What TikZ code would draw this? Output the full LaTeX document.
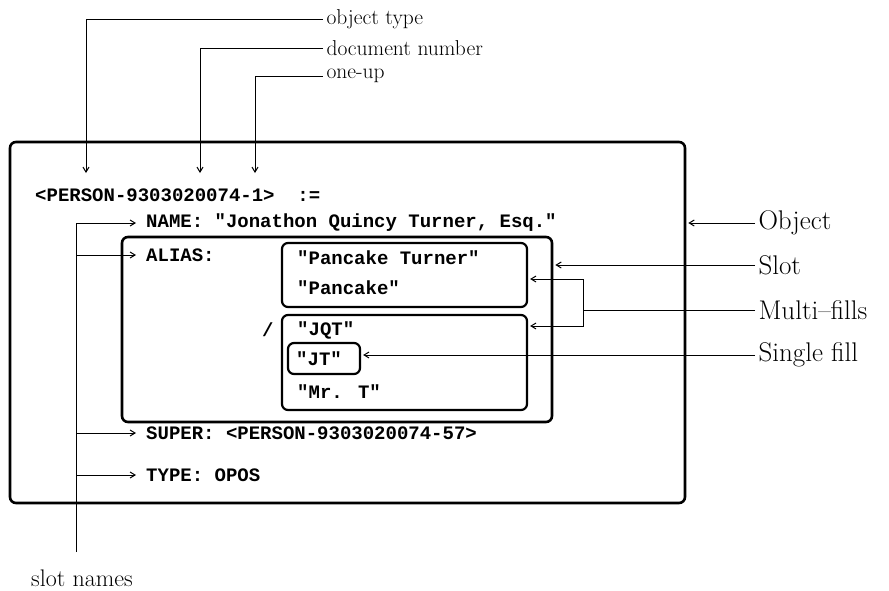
\documentclass[tikz,border=0pt]{standalone}
\usepackage{fontspec}
\newfontfamily\codefont{Liberation Mono}
\usetikzlibrary{arrows.meta}

\begin{document}
\begin{tikzpicture}[x=1pt, y=-1pt,
    >={Straight Barb[length=5pt,width=6pt]},
    frame/.style={draw, line width=2.6pt, rounded corners=6pt, inner sep=0pt},
    code/.style={anchor=west, inner sep=0pt, font=\codefont\bfseries\fontsize{19}{21}\selectfont},
    note/.style={anchor=west, font=\fontsize{21.5}{24}\selectfont},
    tag/.style={anchor=west, font=\fontsize{27}{30}\selectfont},
    lead/.style={line width=1pt}]
    \useasboundingbox (0,0) rectangle (889,590);

    % Boxes: object, slot, fills
    \node[frame, minimum width=675pt, minimum height=361pt] (object) at (347.5,322.5) {};
    \node[frame, minimum width=430pt, minimum height=185pt] (slot) at (337,329.5) {};
    \node[frame, line width=2.2pt, minimum width=245pt, minimum height=64pt] (fillA) at (404.5,275) {};
    \node[frame, line width=2.2pt, minimum width=245pt, minimum height=95pt] (fillB) at (404.5,362.5) {};
    \node[frame, line width=2.2pt, minimum width=72pt, minimum height=31pt] (fillJT) at (324,358.5) {};

    % Object text
    \node[code] (head) at (35,195) {<PERSON-9303020074-1>\ \ :=};
    \node[code] (name) at (146,223) {NAME: "Jonathon Quincy Turner, Esq."};
    \node[code] (alias) at (146,255) {ALIAS:};
    \node[code] (pturner) at (297,258) {"Pancake Turner"};
    \node[code] (pancake) at (297,288) {"Pancake"};
    \node[code] (sep) at (262,330) {/};
    \node[code] (jqt) at (297,330) {"JQT"};
    \node[code] (jt) at (296,359) {"JT"};
    \node[code] (mrt) at (297,392) {"Mr. T"};
    \node[code] (super) at (146,433) {SUPER: <PERSON-9303020074-57>};
    \node[code] (type) at (146,475) {TYPE: OPOS};

    % Labels
    \node[note] (lotype) at (323,19) {object type};
    \node[note] (ldocno) at (323,48) {document number};
    \node[note] (loneup) at (323,76) {one-up};
    \node[note, anchor=center, font=\fontsize{24}{26}\selectfont] (lslots) at (82,578) {slot names};
    \node[tag] (lobject) at (755,223) {Object};
    \node[tag] (lslot) at (755,265) {Slot};
    \node[tag] (lmulti) at (755,310) {Multi--fills};
    \node[tag] (lsingle) at (755,355) {Single fill};

    % Parts of the object name
    \coordinate (ptype) at (86,173);
    \coordinate (pdocno) at (200,173);
    \coordinate (poneup) at (255,173);
    \draw[lead,->] (lotype.west) -| (ptype);
    \draw[lead,->] (ldocno.west) -| (pdocno);
    \draw[lead,->] (loneup.west) -| (poneup);

    % Slot names
    \coordinate (trunk) at (76,552);
    \draw[lead] (trunk) -- (trunk |- name);
    \foreach \n in {name,alias,super,type}
        \draw[lead,->,shorten >=10pt] (trunk |- \n) -- (\n.west);

    % Right side
    \draw[lead,->,shorten >=2pt] (lobject.west) -- (object.east |- lobject.west);
    \draw[lead,->,shorten >=2pt] (lslot.west) -- (slot.east |- lslot.west);
    \coordinate (mf) at (583,310);
    \draw[lead] (lmulti.west) -- (mf);
    \draw[lead,->,shorten >=2pt] (mf) |- (fillA.east |- 0,279);
    \draw[lead,->,shorten >=2pt] (mf) |- (fillB.east |- 0,326);
    \draw[lead,->,shorten >=2pt] (lsingle.west) -- (fillJT.east |- lsingle.west);
\end{tikzpicture}
\end{document}
